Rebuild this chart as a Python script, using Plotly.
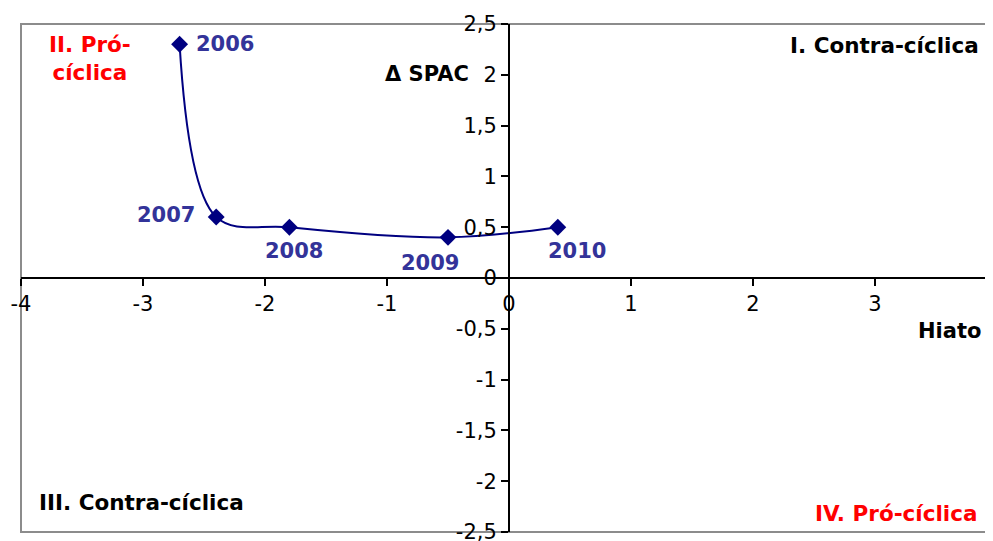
import plotly.graph_objects as go

# Data
years = ["2006", "2007", "2008", "2009", "2010"]
hiato = [-2.7, -2.4, -1.8, -0.5, 0.4]
delta_spac = [2.3, 0.6, 0.5, 0.4, 0.5]

x_ticks = [-4, -3, -2, -1, 0, 1, 2, 3, 4]
y_ticks = [-2.5, -2, -1.5, -1, -0.5, 0, 0.5, 1, 1.5, 2, 2.5]

x_range = [-4, 3.967]
y_range = [-2.5, 2.5]

# label placement (pixels) per year: (xanchor, xshift, yshift)
label_offsets = [("left", 14, 0), ("right", -19, 2), ("center", 5, -24),
                 ("center", -18, -26), ("center", 19, -24)]

FONT = "DejaVu Sans, Verdana, sans-serif"
NAVY = "#000080"
LBL = "#333399"


def fmt(v):
    s = ("%g" % v).replace(".", ",")
    return s  # hyphen-minus, comma decimal


fig = go.Figure()
fig.add_trace(go.Scatter(
    x=hiato, y=delta_spac, mode="lines+markers",
    line=dict(color=NAVY, width=2, shape="spline", smoothing=1.0),
    marker=dict(symbol="diamond", size=13, color=NAVY),
    cliponaxis=False, showlegend=False, hoverinfo="skip"))

annotations = []
for yr, xv, yv, (xa, xs, ys) in zip(years, hiato, delta_spac, label_offsets):
    annotations.append(dict(x=xv, y=yv, xref="x", yref="y", text=yr, showarrow=False,
                            xanchor=xa, yanchor="middle", xshift=xs, yshift=ys,
                            font=dict(family=FONT, size=21, color=LBL, weight="bold")))

# page offset of the plot div (default body margin 8px)
OFF = 8
W, H = 985, 533
L, T, B, R = 21 - OFF, 24 - OFF, 9, 0
pw, ph = W - L - R, H - T - B


def px(x):
    return (x - OFF - L) / pw


def py(y):
    return 1 - (y - OFF - T) / ph


def txt(t, x, y, xa, ya, color="black", align="left", size=21.5):
    annotations.append(dict(x=px(x), y=py(y), xref="paper", yref="paper", text=t, showarrow=False,
                            xanchor=xa, yanchor=ya, align=align,
                            font=dict(family=FONT, size=size, color=color, weight="bold")))


txt("II. Pró-<br>cíclica", 90, 59, "center", "middle", color="red", align="center")
txt("I. Contra-cíclica", 981, 45, "right", "middle")
txt("III. Contra-cíclica", 37, 502, "left", "middle")
txt("IV. Pró-cíclica", 979, 513, "right", "middle", color="red")
txt("Δ SPAC", 471, 74, "right", "middle", size=21)
txt("Hiato", 983, 331, "right", "middle", size=21)

y_axis_pos = (0 - x_range[0]) / (x_range[1] - x_range[0])
x_axis_pos = (0 - y_range[0]) / (y_range[1] - y_range[0])

fig.update_layout(
    width=W, height=H, margin=dict(l=L, r=R, t=T, b=B, autoexpand=False),
    paper_bgcolor="white", plot_bgcolor="white",
    font=dict(family=FONT, size=21, color="black"),
    xaxis=dict(range=x_range, tickmode="array", tickvals=x_ticks,
               ticktext=[fmt(v) for v in x_ticks],
               showgrid=False, zeroline=False, showline=True, linecolor="black", linewidth=2,
               ticks="outside", ticklen=7, tickwidth=2, tickcolor="black",
               anchor="free", position=x_axis_pos, automargin=False,
               ticklabeloverflow="allow",
               tickfont=dict(size=21), fixedrange=True),
    yaxis=dict(range=y_range, tickmode="array", tickvals=y_ticks,
               ticktext=[fmt(v) for v in y_ticks],
               showgrid=False, zeroline=False, showline=True, linecolor="black", linewidth=2,
               ticks="outside", ticklen=7, tickwidth=2, tickcolor="black",
               anchor="free", position=y_axis_pos, automargin=False,
               ticklabeloverflow="allow",
               tickfont=dict(size=21), fixedrange=True),
    annotations=annotations,
    shapes=[dict(type="rect", xref="paper", yref="paper", x0=0, x1=1.05, y0=0, y1=1,
                 line=dict(color="#8c8c8c", width=2), layer="below")],
)

fig.write_html("out.html")
